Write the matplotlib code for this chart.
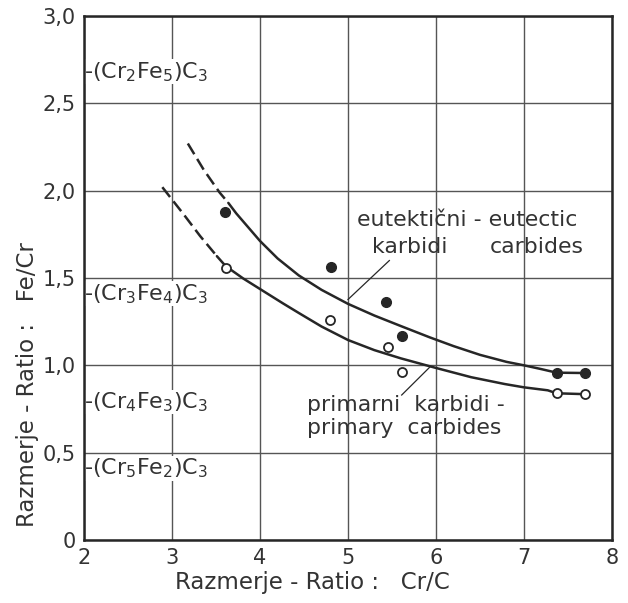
import matplotlib
matplotlib.use("Agg")
import matplotlib.pyplot as plt
import numpy as np

# measured points
eut_x = [3.60, 4.81, 5.43, 5.61, 7.37, 7.69]
eut_y = [1.88, 1.565, 1.36, 1.17, 0.956, 0.956]
prim_x = [3.61, 4.80, 5.45, 5.61, 7.37, 7.69]
prim_y = [1.56, 1.26, 1.105, 0.962, 0.84, 0.835]

# drawn trend curves
eut_curve_x = [3.18, 3.36, 3.54, 3.64, 3.73, 4.0, 4.2, 4.44, 4.7, 5.0, 5.3,
               5.6, 5.93, 6.2, 6.5, 6.8, 7.0, 7.2, 7.37, 7.69]
eut_curve_y = [2.27, 2.12, 1.99, 1.93, 1.87, 1.712, 1.612, 1.515, 1.432, 1.352,
               1.285, 1.225, 1.16, 1.11, 1.06, 1.02, 1.0, 0.978, 0.958, 0.956]
eut_dash_end = 3.64

prim_curve_x = [2.89, 3.13, 3.32, 3.51, 3.61, 3.81, 4.0, 4.26, 4.45, 4.7, 5.0,
                5.3, 5.6, 6.0, 6.4, 6.78, 7.0, 7.27, 7.37, 7.69]
prim_curve_y = [2.02, 1.866, 1.74, 1.625, 1.568, 1.497, 1.437, 1.355, 1.297, 1.222,
                1.145, 1.087, 1.04, 0.985, 0.932, 0.893, 0.874, 0.857, 0.84, 0.835]
prim_dash_end = 3.51

# carbide compositions marked on the left
phase_labels = [r"-(Cr$_2$Fe$_5$)C$_3$", r"-(Cr$_3$Fe$_4$)C$_3$",
                r"-(Cr$_4$Fe$_3$)C$_3$", r"-(Cr$_5$Fe$_2$)C$_3$"]
phase_y = [2.68, 1.41, 0.79, 0.41]

xticks = [2, 3, 4, 5, 6, 7, 8]
yticks = [0, 0.5, 1.0, 1.5, 2.0, 2.5, 3.0]
ytick_labels = ["0", "0,5", "1,0", "1,5", "2,0", "2,5", "3,0"]

ink = "#262626"
txt = "#333333"
fs = 15

fig = plt.figure(figsize=(6.28, 6.03), dpi=100)
ax = fig.add_axes([84 / 628, 63 / 603, 528 / 628, 524 / 603])

ax.set_xlim(2, 8)
ax.set_ylim(0, 3.0)
ax.set_xticks(xticks)
ax.set_xticklabels([str(t) for t in xticks])
ax.set_yticks(yticks)
ax.set_yticklabels(ytick_labels)
ax.tick_params(length=0, labelsize=fs, labelcolor=txt, pad=6)
ax.grid(True, color="#555555", linewidth=1.0)
ax.set_axisbelow(True)
for s in ax.spines.values():
    s.set_linewidth(1.8)
    s.set_color(ink)


def draw_curve(cx, cy, split):
    cx = np.array(cx)
    cy = np.array(cy)
    m1 = cx <= split
    m2 = cx >= split
    ax.plot(cx[m1], cy[m1], color=ink, lw=1.8, linestyle=(0, (5, 2.2)))
    ax.plot(cx[m2], cy[m2], color=ink, lw=1.8, solid_joinstyle="round",
            solid_capstyle="round")


draw_curve(eut_curve_x, eut_curve_y, eut_dash_end)
draw_curve(prim_curve_x, prim_curve_y, prim_dash_end)

ax.plot(eut_x, eut_y, "o", ms=7, color=ink, zorder=5)
ax.plot(prim_x, prim_y, "o", ms=6.5, mfc="white", mec=ink, mew=1.3, zorder=5)

# leader lines
ax.plot([5.47, 5.0], [1.60, 1.377], color=ink, lw=0.9)
ax.plot([5.61, 5.93], [0.83, 0.99], color=ink, lw=0.9)

afs = 15.8
ax.text(5.10, 1.83, "eutektični - eutectic", fontsize=afs, color=txt, va="center")
ax.text(5.27, 1.675, "karbidi", fontsize=afs, color=txt, va="center")
ax.text(6.61, 1.675, "carbides", fontsize=afs, color=txt, va="center")
ax.text(4.53, 0.775, "primarni  karbidi -", fontsize=afs, color=txt, va="center")
ax.text(4.53, 0.64, "primary  carbides", fontsize=afs, color=txt, va="center")

for lab, y in zip(phase_labels, phase_y):
    ax.text(2.0, y, lab, fontsize=16, color=txt, va="center", ha="left",
            zorder=2.4, bbox=dict(facecolor="white", edgecolor="none", pad=0.5))

lfs = 16.5
fig.text(175 / 628, 1 - 583 / 603, "Razmerje - Ratio :   Cr/C", fontsize=lfs,
         color=txt, va="center", ha="left")
fig.text(28 / 628, 1 - 385 / 603, "Razmerje - Ratio :   Fe/Cr", fontsize=lfs,
         color=txt, va="center", ha="center", rotation=90)

fig.savefig("out.png", dpi=100)
